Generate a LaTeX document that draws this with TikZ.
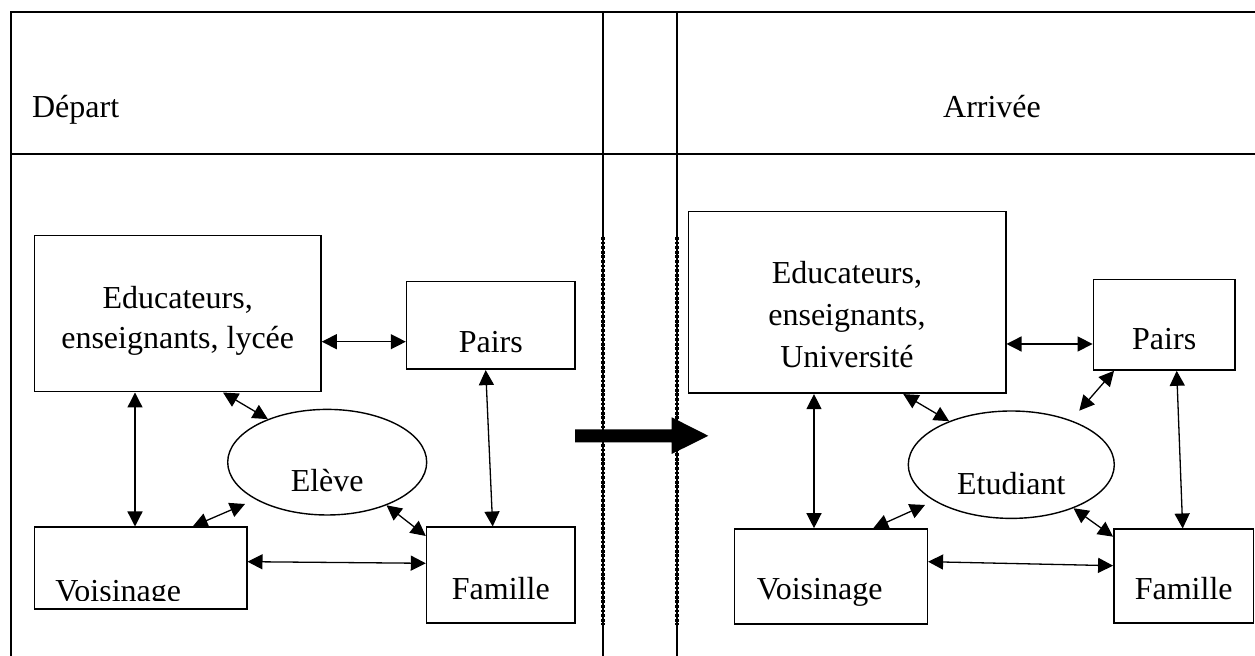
\documentclass[tikz,border=0pt]{standalone}
\usepackage{fontspec}
\setmainfont{Liberation Serif}
\usetikzlibrary{arrows.meta,shapes.geometric}
\tikzset{>={Triangle[length=7.5pt,width=7.5pt]}}

\begin{document}
\begin{tikzpicture}[x=0.5pt,y=-0.5pt,
    every node/.style={font=\fontsize{16}{20}\selectfont},
    box/.style={draw,line width=0.8pt,inner sep=0pt},
    bulle/.style={draw,ellipse,line width=0.7pt,inner sep=0pt},
    bas/.style={text height=#1,text depth=0pt},
    pointille/.style={line width=2pt,dash pattern=on 1.4pt off 0.9pt},
    lien/.style={<->,line width=0.65pt}]
     \useasboundingbox (0,0) rectangle (1255,656);
     % tableau
     \draw[line width=1pt] (10.7,656) -- (10.7,11.7) -- (1255,11.7);
     \draw[line width=1pt] (10.7,154) -- (1255,154);
     \draw[line width=1pt] (602.7,11.7) -- (602.7,656);
     \draw[line width=1pt] (676.7,11.7) -- (676.7,656);
     \draw[pointille] (602.7,237) -- (602.7,625);
     \draw[pointille] (676.7,237) -- (676.7,625);
     \node[anchor=base west,inner sep=0pt] (depart) at (31.7,118) {Départ};
     \node[anchor=base,inner sep=0pt] (arrivee) at (992,118) {Arrivée};
     % depart
     \node[box,minimum width=143.3pt,minimum height=78pt,align=center] (eduL) at (177.7,313.7) {\rule{0pt}{17.8pt}Educateurs,\\enseignants, lycée};
     \node[box,minimum width=84.2pt,minimum height=43.8pt,bas=27.5pt] (pairsL) at (490.8,325.5) {Pairs};
     \node[box,minimum width=106.2pt,minimum height=41pt] (voisL) at (140.5,568.3) {};
     \node[box,minimum width=74.2pt,minimum height=48pt,bas=24.7pt] (famL) at (500.8,575.3) {Famille};
     \node[bulle,minimum width=99.5pt,minimum height=52.8pt,bas=29.5pt] (eleve) at (327.2,462.2) {Elève};
     \begin{scope}
       \clip (34.3,527.3) rectangle (246.7,601);
       \node[anchor=base west,inner sep=0pt] (voisLtxt) at (55,602) {Voisinage};
     \end{scope}
     \coordinate (eleveSW) at (245,504);
     \draw[lien] ([yshift=-14pt]eduL.east) -- ([yshift=-14pt]eduL.east -| pairsL.west);
     \draw[lien] ([xshift=-21.35pt]eduL.south) -- ([xshift=-21.35pt]eduL.south |- voisL.north);
     \draw[lien] ([xshift=22.65pt]eduL.south) -- (eleve.144);
     \draw[lien] ([xshift=26.1pt]voisL.north) -- (eleveSW);
     \draw[lien] (eleve.-36) -- ([yshift=19.65pt]famL.west);
     \draw[lien] ([xshift=-2.55pt]pairsL.south) -- ([xshift=-4.05pt]famL.north);
     \draw[lien] ([yshift=3.3pt]voisL.east) -- ([yshift=6pt]famL.west);
     % fleche
     \fill (575,429.3) -- (671.7,429.3) -- (671.7,417.3) -- (708.3,435.8) -- (671.7,454) -- (671.7,442.3) -- (575,442.3) -- cycle;
     % arrivee
     \node[box,minimum width=158.7pt,minimum height=90.8pt,align=center,font=\fontsize{16}{21.2}\selectfont] (eduR) at (847,302.5) {\rule{0pt}{23.2pt}Educateurs,\\enseignants,\\Université};
     \node[box,minimum width=70.8pt,minimum height=45.3pt,bas=25.3pt] (pairsR) at (1164.2,324.7) {Pairs};
     \node[box,minimum width=96.5pt,minimum height=47.5pt,bas=23.5pt,text width=74pt,align=left] (voisR) at (830.8,576.5) {Voisinage};
     \node[box,minimum width=69.8pt,minimum height=47pt,bas=23.7pt] (famR) at (1183.7,576.3) {Famille};
     \node[bulle,minimum width=103pt,minimum height=53.7pt,bas=30.3pt] (etud) at (1011.3,464.7) {Etudiant};
     \coordinate (etudSW) at (925,505);
     \coordinate (etudNE) at (1079.3,410.7);
     \draw[lien] ([yshift=-20.75pt]eduR.east) -- ([yshift=-20.75pt]eduR.east -| pairsR.west);
     \draw[lien] ([xshift=-16.5pt]eduR.south) -- ([xshift=-16.5pt]eduR.south |- voisR.north);
     \draw[lien] ([xshift=28.15pt]eduR.south) -- (etud.145);
     \draw[lien] ([xshift=21.25pt]voisR.north) -- (etudSW);
     \draw[lien] (etud.-35) -- ([yshift=19.8pt]famR.west);
     \draw[lien] ([xshift=-25.1pt]pairsR.south) -- (etudNE);
     \draw[lien] ([xshift=6.25pt]pairsR.south) -- ([xshift=-0.5pt]famR.north);
     \draw[lien] ([yshift=7.4pt]voisR.east) -- ([yshift=5.3pt]famR.west);
\end{tikzpicture}
\end{document}
